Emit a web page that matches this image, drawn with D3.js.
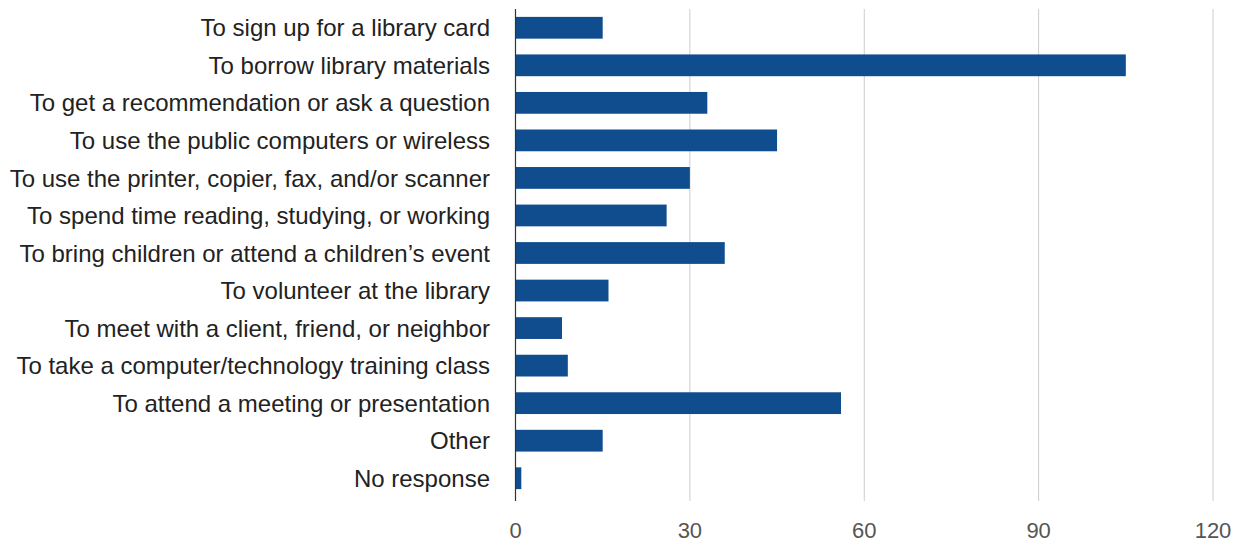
<!DOCTYPE html>
<html>
<head>
<meta charset="utf-8">
<script src="https://cdn.jsdelivr.net/npm/d3@7"></script>
<style>
  html, body { margin: 0; padding: 0; background: #fff; }
  svg { display: block; }
</style>
</head>
<body>
<svg id="chart" width="1243" height="542"></svg>
<script>
const categories = [
  "To sign up for a library card",
  "To borrow library materials",
  "To get a recommendation or ask a question",
  "To use the public computers or wireless",
  "To use the printer, copier, fax, and/or scanner",
  "To spend time reading, studying, or working",
  "To bring children or attend a children\u2019s event",
  "To volunteer at the library",
  "To meet with a client, friend, or neighbor",
  "To take a computer/technology training class",
  "To attend a meeting or presentation",
  "Other",
  "No response"
];
const values = [15, 105, 33, 45, 30, 26, 36, 16, 8, 9, 56, 15, 1];
const tickValues = [0, 30, 60, 90, 120];

(function () {
const svg = d3.select("#chart");
const plotLeft = 515.5, plotRight = 1213, plotTop = 9, plotBottom = 497;

const x = d3.scaleLinear().domain([0, 120]).range([plotLeft, plotRight]);
const y = d3.scaleBand().domain(categories).range([plotTop, plotBottom])
  .paddingInner(0.42).paddingOuter(0.21);

// gridlines
svg.append("g").selectAll("line")
  .data(tickValues.filter(d => d !== 0))
  .join("line")
  .attr("x1", d => x(d)).attr("x2", d => x(d))
  .attr("y1", plotTop).attr("y2", 501)
  .attr("stroke", "#cccccc").attr("stroke-width", 1);

// bars
svg.append("g").selectAll("rect")
  .data(values)
  .join("rect")
  .attr("x", x(0))
  .attr("y", (d, i) => y(categories[i]))
  .attr("width", d => x(d) - x(0))
  .attr("height", y.bandwidth())
  .attr("fill", "#0f4d8f");

// zero axis line
svg.append("line")
  .attr("x1", x(0)).attr("x2", x(0))
  .attr("y1", plotTop).attr("y2", 501)
  .attr("stroke", "#333333").attr("stroke-width", 1.2);

// category labels
svg.append("g").selectAll("text")
  .data(categories)
  .join("text")
  .attr("x", 490)
  .attr("y", d => y(d) + y.bandwidth() / 2)
  .attr("dy", "0.36em")
  .attr("text-anchor", "end")
  .attr("font-family", "Liberation Sans, Arial, sans-serif")
  .attr("font-size", 24)
  .attr("fill", "#222222")
  .text(d => d);

// x tick labels
svg.append("g").selectAll("text")
  .data(tickValues)
  .join("text")
  .attr("x", d => x(d))
  .attr("y", 537.5)
  .attr("text-anchor", "middle")
  .attr("font-family", "Liberation Sans, Arial, sans-serif")
  .attr("font-size", 22)
  .attr("fill", "#555555")
  .text(d => d);
})();
</script>
</body>
</html>
